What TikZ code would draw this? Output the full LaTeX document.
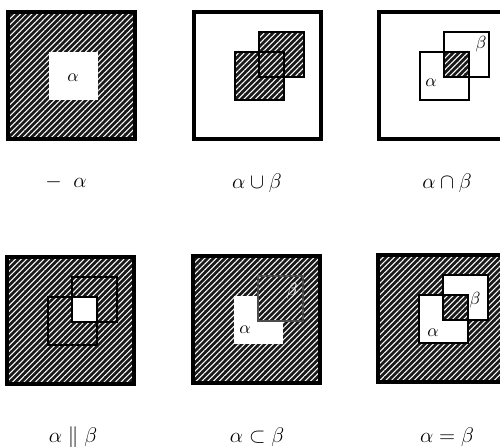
\documentclass[tikz,border=0pt]{standalone}
\usepackage{amsmath,amssymb}
\usetikzlibrary{patterns.meta}
\tikzset{
  every picture/.style={line join=miter},
  every node/.style={font=\large},
  % Rahmen und Mengen
  frame/.style={line width=2.2pt},
  set/.style={line width=1.1pt},
  hatch/.style={preaction={fill=black!90},
    pattern={Lines[angle=45,distance=2.3pt,line width=0.6pt]}, pattern color=white},
  panel/.style={shift={(#1)}},
  inlbl/.style={font=\normalsize, inner sep=1pt},
}

\begin{document}
\begin{tikzpicture}[x=0.02cm, y=-0.02cm]
  \clip (0,0) rectangle (500,446);
  \fill[white] (0,0) rectangle (500,446);
  % Ecken der Quadrate (Rahmen, alpha, beta, Schnitt)
  \def\S{127}
  \def\aA{(41,40) rectangle (90,88)}
  \def\bB{(65,20) rectangle (110,65)}
  \def\ab{(65,40) rectangle (90,65)}
  % -alpha
  \begin{scope}[panel={8,12}]
    \fill[hatch] (0,0) rectangle (\S,\S);
    \fill[white] \aA;
    \draw[frame] (0,0) rectangle (\S,\S);
    \node[inlbl] (a1) at (65,66) {$\alpha$};
  \end{scope}
  % Vereinigung
  \begin{scope}[panel={194,12}]
    \fill[hatch] \aA;
    \fill[hatch] \bB;
    \draw[set] \aA;
    \draw[set] \bB;
    \draw[frame] (0,0) rectangle (\S,\S);
  \end{scope}
  % Durchschnitt
  \begin{scope}[panel={379,12}]
    \fill[hatch] \ab;
    \draw[set] \aA;
    \draw[set] \bB;
    \draw[frame] (0,0) rectangle (\S,\S);
    \node[inlbl] (a3) at (52,71) {$\alpha$};
    \node[inlbl] (b3) at (102,32) {$\beta$};
  \end{scope}
  % alpha || beta
  \begin{scope}[panel={7,257}]
    \fill[hatch] (0,0) rectangle (\S,\S);
    \fill[white] \ab;
    \draw[set] \aA;
    \draw[set] \bB;
    \draw[frame] (0,0) rectangle (\S,\S);
  \end{scope}
  % Teilmenge
  \begin{scope}[panel={193,256}]
    \fill[hatch] (0,0) rectangle (\S,\S);
    \fill[white] \aA;
    \fill[hatch] \bB;
    \draw[set, black!70] \bB;
    \draw[frame] (0,0) rectangle (\S,\S);
    \node[inlbl] (a5) at (52,74) {$\alpha$};
    \node[inlbl, white] (b5) at (99,35) {$\beta$};
  \end{scope}
  % Gleichheit
  \begin{scope}[panel={378,255}]
    \fill[hatch] (0,0) rectangle (\S,\S);
    \fill[white] \aA;
    \fill[white] \bB;
    \fill[hatch] \ab;
    \draw[set] \aA;
    \draw[set] \bB;
    \draw[frame] (0,0) rectangle (\S,\S);
    \node[inlbl] (a6) at (55,78) {$\alpha$};
    \node[inlbl] (b6) at (97,45) {$\beta$};
  \end{scope}
  % Beschriftung
  \node (l1) at (66,182) {$-\;\;\alpha$};
  \node (l2) at (257,183) {$\alpha\cup\beta$};
  \node (l3) at (447,183) {$\alpha\cap\beta$};
  \node (l4) at (73,437) {$\alpha\parallel\beta$};
  \node (l5) at (257,437) {$\alpha\subset\beta$};
  \node (l6) at (447,437) {$\alpha=\beta$};
\end{tikzpicture}
\end{document}
